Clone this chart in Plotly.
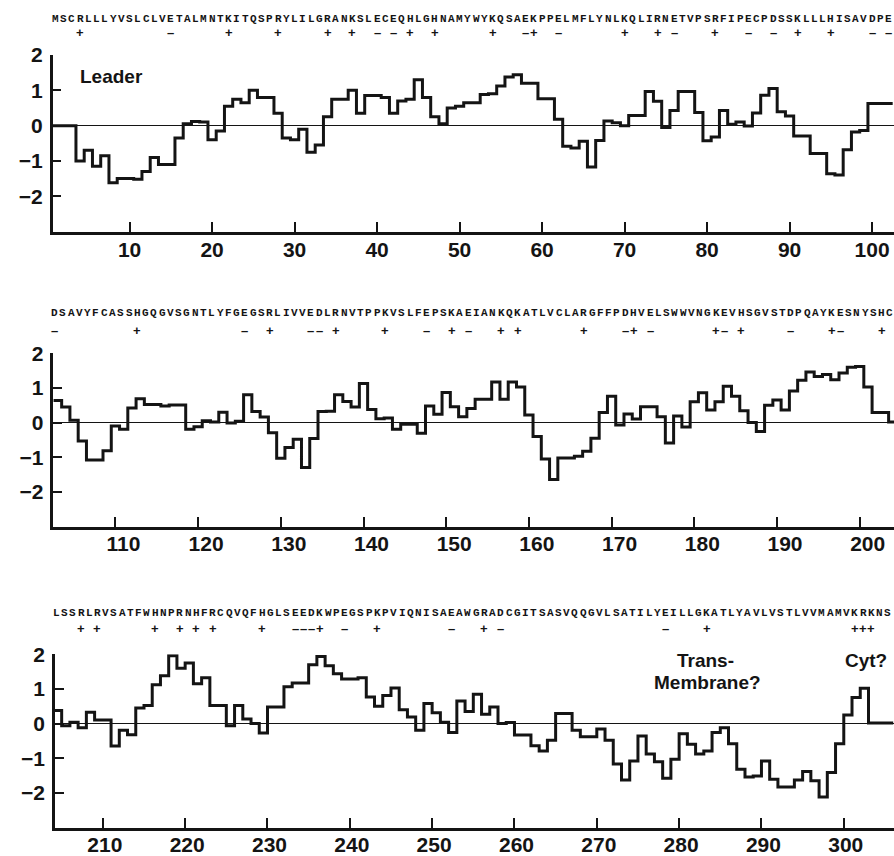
import numpy as np
import plotly.graph_objects as go

# ---------------- data ----------------
seq_panel1 = "MSCRLLLYVSLCLVETALMNTKITQSPRYLILGRANKSLECEQHLGHNAMYWYKQSAEKPPELMFLYNLKQLIRNETVPSRFIPECPDSSKLLLHISAVDPE"
seq_panel2 = "DSAVYFCASSHGQGVSGNTLYFGEGSRLIVVEDLRNVTPPKVSLFEPSKAEIANKQKATLVCLARGFFPDHVELSWWVNGKEVHSGVSTDPQAYKESNYSHC"
seq_panel3 = "LSSRLRVSATFWHNPRNHFRCQVQFHGLSEEDKWPEGSPKPVIQNISAEAWGRADCGITSASVQQGVLSATILYEILLGKATLYAVLVSTLVVMAMVKRKNS"
seq_start = [1, 103, 205]

# hydropathy values, one per residue, first residue given by hyd_start
hyd_start = [1, 103, 204]
hyd_panel1 = [0, 0, 0, -1.0, -0.7, -1.15, -0.85, -1.62, -1.5, -1.5, -1.52, -1.3, -0.9, -1.1, -1.1,
              -0.35, 0.05, 0.12, 0.1, -0.4, -0.15, 0.55, 0.75, 0.65, 1.0, 0.8, 0.8, 0.35, -0.35, -0.4,
              -0.1, -0.75, -0.55, 0.25, 0.75, 0.75, 1.0, 0.35, 0.85, 0.85, 0.8, 0.35, 0.7, 0.75, 1.3,
              0.8, 0.25, 0.05, 0.5, 0.55, 0.65, 0.65, 0.88, 0.9, 1.12, 1.38, 1.44, 1.2, 1.2, 0.76,
              0.76, 0.18, -0.58, -0.63, -0.44, -1.17, -0.42, 0.13, 0.08, 0.0, 0.29, 0.29, 0.97, 0.69,
              -0.05, 0.43, 0.97, 0.97, 0.37, -0.43, -0.32, 0.43, 0.04, 0.1, -0.01, 0.36, 0.86, 1.05,
              0.39, 0.27, -0.29, -0.29, -0.79, -0.79, -1.36, -1.4, -0.68, -0.18, -0.14, 0.63, 0.63, 0.63]
hyd_panel2 = [0.64, 0.45, 0.07, -0.53, -1.08, -1.08, -0.81, -0.1, -0.19, 0.42, 0.69, 0.52, 0.52, 0.48,
              0.51, 0.51, -0.19, -0.12, 0.05, 0.02, 0.3, -0.01, 0.04, 0.8, 0.32, 0.16, -0.29, -1.03,
              -0.72, -0.48, -1.3, -0.46, 0.32, 0.33, 0.8, 0.61, 0.45, 1.13, 0.38, 0.11, 0.13, -0.19,
              -0.05, -0.05, -0.31, 0.48, 0.24, 0.87, 0.46, 0.17, 0.41, 0.67, 0.67, 1.17, 0.67, 1.17,
              1.03, 0.22, -0.4, -1.05, -1.64, -1.02, -1.02, -0.97, -0.83, -0.45, 0.29, 0.76, -0.07,
              0.25, 0.1, 0.46, 0.46, 0.17, -0.59, 0.19, -0.13, 0.6, 0.86, 0.36, 0.6, 1.05, 0.76, 0.34,
              0.0, -0.26, 0.5, 0.65, 0.36, 0.91, 1.22, 1.46, 1.33, 1.39, 1.24, 1.43, 1.6, 1.62, 1.03,
              0.29, 0.29, 0.02]
hyd_panel3 = [0.38, -0.06, 0.04, -0.12, 0.33, 0.1, 0.1, -0.65, -0.19, -0.32, 0.45, 0.52, 1.12, 1.38,
              1.96, 1.6, 1.75, 1.15, 1.32, 0.52, 0.52, -0.06, 0.52, 0.13, 0.0, -0.27, 0.48, 0.48, 1.06,
              1.17, 1.17, 1.7, 1.94, 1.67, 1.44, 1.29, 1.29, 1.32, 0.77, 0.5, 0.81, 1.03, 0.4, 0.19,
              -0.19, 0.58, 0.31, 0.04, -0.26, 0.65, 0.35, 0.85, 0.27, 0.48, 0.0, 0.03, -0.33, -0.33,
              -0.64, -0.79, -0.48, 0.29, 0.29, -0.19, -0.38, -0.38, -0.16, -0.48, -1.17, -1.63, -1.08,
              -0.36, -0.88, -1.1, -1.58, -1.03, -0.29, -0.6, -0.88, -0.79, -0.26, -0.12, -0.58, -1.32,
              -1.54, -1.51, -1.08, -1.61, -1.83, -1.83, -1.63, -1.38, -1.65, -2.12, -1.41, -0.58, 0.25,
              0.75, 1.02, 0.02, 0.02, 0.02]

x_tick_values = [[10, 20, 30, 40, 50, 60, 70, 80, 90, 100],
                 [110, 120, 130, 140, 150, 160, 170, 180, 190, 200],
                 [210, 220, 230, 240, 250, 260, 270, 280, 290, 300]]
y_tick_values = [-2, -1, 0, 1, 2]
y_tick_labels = ["\u22122", "\u22121", "0", "1", "2"]
charge_sign = {"K": "+", "R": "+", "H": "+", "D": "\u2013", "E": "\u2013"}

# ---------------- layout / style ----------------
W, H = 894, 856
INK = "#141414"
x_ranges = [[0.68, 102.66], [102.49, 204.15], [204.19, 306.1]]
x_left_px = [52.7, 53.3, 55.0]
y_top_px = [55.0, 353.3, 654.3]
y_bot_px = [231.6, 526.5, 827.5]
step_offset = [-0.5, -0.5, 0.0]
text_offset = [0.0, -0.35, -0.65]
label_shift = [0, 8, 2]
seq_y_px = [19, 313, 613]
sign_y_px = [33, 330, 628]

hyd_all = [hyd_panel1, hyd_panel2, hyd_panel3]
seq_all = [seq_panel1, seq_panel2, seq_panel3]

fig = go.Figure()
tickfont = dict(family="Liberation Sans", size=21, color=INK, weight="bold")
seq_font = dict(family="Liberation Mono", size=11, color=INK, weight="bold")
sign_font = dict(family="Liberation Sans", size=13, color=INK, weight="bold")
annotations = []

for i in range(3):
    sfx = "" if i == 0 else str(i + 1)
    xa, ya = "x" + sfx, "y" + sfx
    vals = np.array(hyd_all[i], dtype=float)
    res = hyd_start[i] + np.arange(len(vals))
    xs = np.append(res + step_offset[i], res[-1] + step_offset[i] + 1)
    ys = np.append(vals, vals[-1])
    fig.add_trace(go.Scatter(x=xs, y=ys, mode="lines", line=dict(color=INK, width=3, shape="hv"),
                             xaxis=xa, yaxis=ya, hoverinfo="skip", showlegend=False))

    seq = seq_all[i]
    for k, c in enumerate(seq):
        xr = seq_start[i] + k + text_offset[i]
        annotations.append(dict(text=c, x=xr, y=1 - seq_y_px[i] / H, xref=xa, yref="paper",
                                xanchor="center", yanchor="middle", showarrow=False, font=seq_font))
        if c in charge_sign:
            annotations.append(dict(text=charge_sign[c], x=xr, y=1 - sign_y_px[i] / H, xref=xa,
                                    yref="paper", xanchor="center", yanchor="middle",
                                    showarrow=False, font=sign_font))

    fig.update_layout(**{
        "xaxis" + sfx: dict(domain=[x_left_px[i] / W, 1.0], range=x_ranges[i], anchor=ya,
                            showline=True, linewidth=2.5, linecolor=INK, ticks="inside", ticklen=10,
                            tickwidth=2, tickcolor=INK, tickvals=x_tick_values[i],
                            ticktext=[str(v) for v in x_tick_values[i]], tickfont=tickfont,
                            ticklabelstandoff=-3, ticklabelshift=label_shift[i],
                            showgrid=False, zeroline=False, fixedrange=True),
        "yaxis" + sfx: dict(domain=[1 - y_bot_px[i] / H, 1 - y_top_px[i] / H], range=[-3, 2], anchor=xa,
                            showline=True, linewidth=2.5, linecolor=INK, ticks="inside", ticklen=9,
                            tickwidth=2, tickcolor=INK, tickvals=y_tick_values, ticktext=y_tick_labels,
                            tickfont=tickfont, ticklabelstandoff=3, showgrid=False, zeroline=True,
                            zerolinewidth=1.2, zerolinecolor=INK, fixedrange=True),
    })

ann_font = dict(family="Liberation Sans", size=19, color=INK, weight="bold")
annotations += [
    dict(text="Leader", x=78 / W, y=1 - 76.5 / H, xref="paper", yref="paper",
         xanchor="left", yanchor="middle", showarrow=False, font=ann_font),
    dict(text="Trans-", x=705 / W, y=1 - 660.5 / H, xref="paper", yref="paper",
         xanchor="center", yanchor="middle", showarrow=False, font=ann_font),
    dict(text="Membrane?", x=707.5 / W, y=1 - 682 / H, xref="paper", yref="paper",
         xanchor="center", yanchor="middle", showarrow=False, font=ann_font),
    dict(text="Cyt?", x=866 / W, y=1 - 660.5 / H, xref="paper", yref="paper",
         xanchor="center", yanchor="middle", showarrow=False, font=ann_font),
]

fig.update_layout(
    width=W, height=H, margin=dict(l=0, r=0, t=0, b=0, pad=0, autoexpand=False),
    paper_bgcolor="white", plot_bgcolor="white", showlegend=False,
    annotations=annotations,
)

fig.write_html("out.html", config={"displayModeBar": False},
               post_script="document.body.style.margin='0';document.body.style.overflow='hidden';")
